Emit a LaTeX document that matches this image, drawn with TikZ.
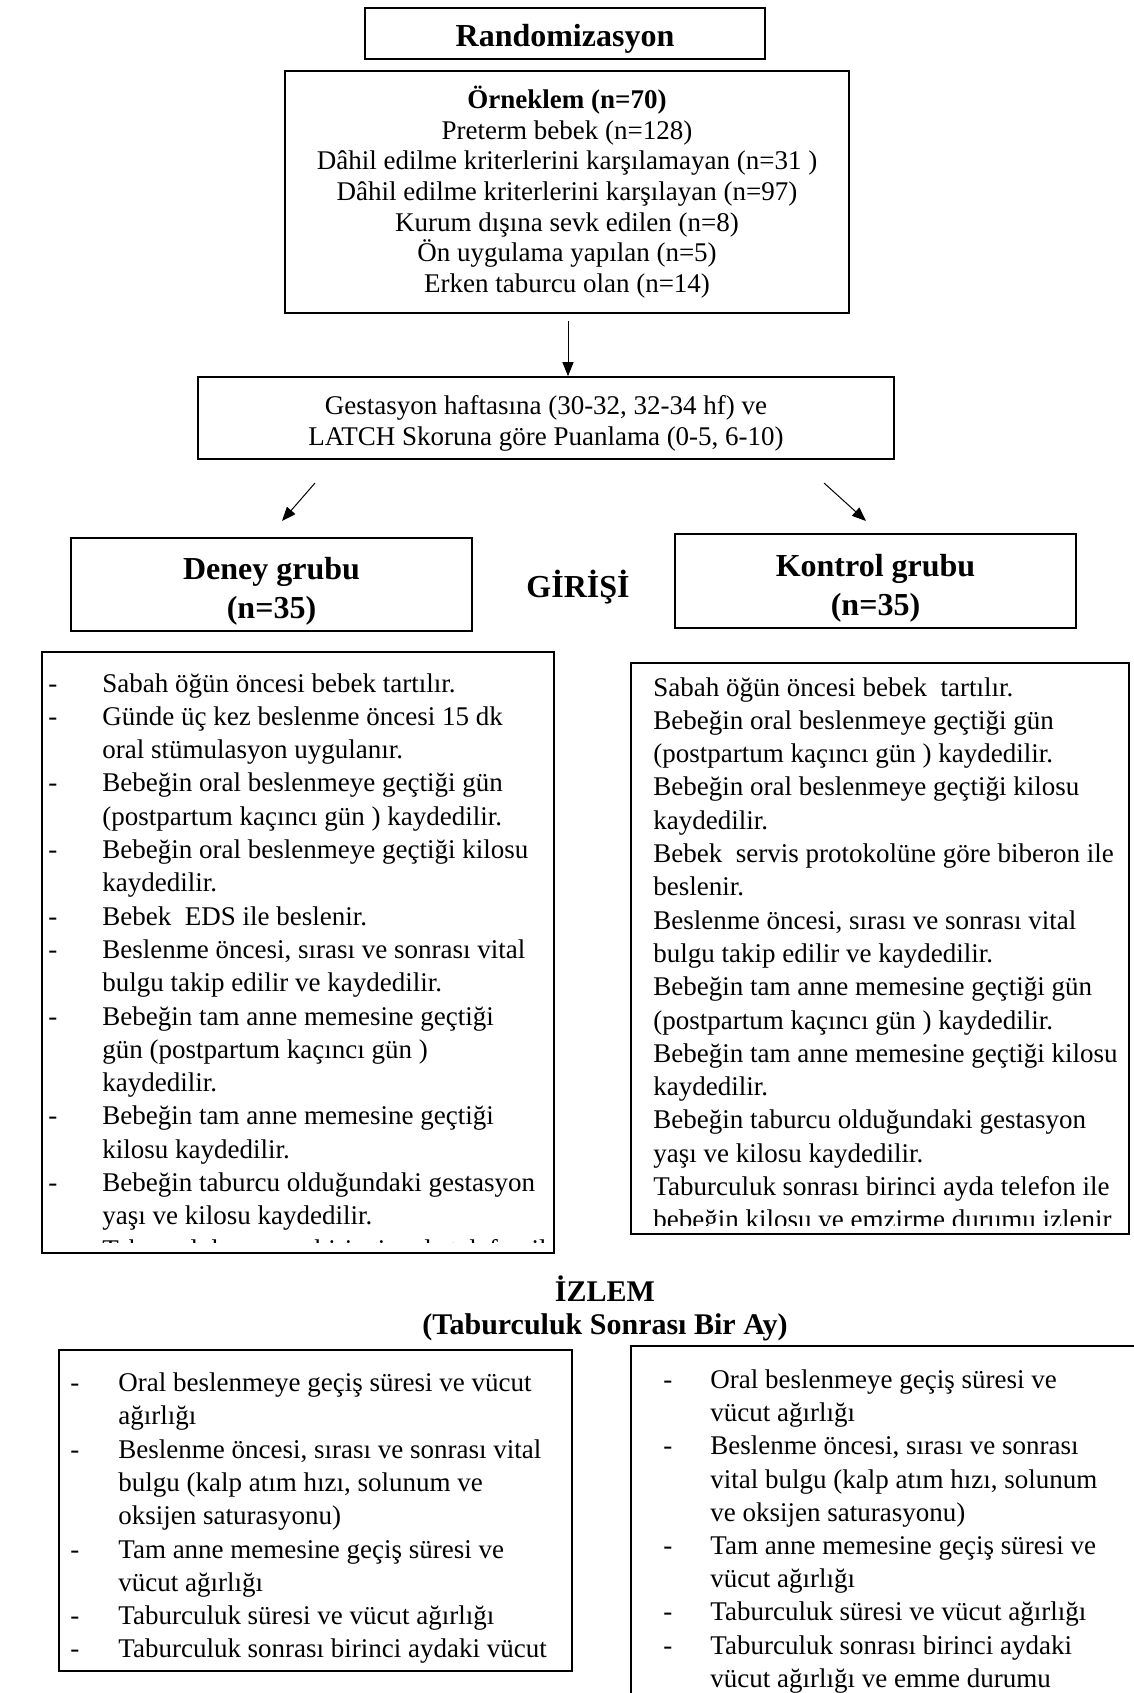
\documentclass[tikz,border=0pt]{standalone}
\usepackage{fontspec}
\setmainfont{Liberation Serif}
\usetikzlibrary{arrows.meta}
\begin{document}
\begin{tikzpicture}[x=0.5pt,y=-0.5pt,
  box/.style={draw,line width=0.8pt,inner sep=0pt},
  conn/.style={line width=0.5pt,-{Triangle[length=7pt,width=5.5pt]}},
  ctxt/.style={inner sep=0pt,anchor=base,font=\fontsize{13.5}{16}\selectfont},
  ltxt/.style={inner sep=0pt,anchor=base west,font=\fontsize{13.5}{16}\selectfont},
  hbig/.style={inner sep=0pt,anchor=base,font=\bfseries\fontsize{16}{19}\selectfont},
  hmid/.style={inner sep=0pt,anchor=base,font=\bfseries\fontsize{15}{18}\selectfont},
]
\useasboundingbox (0,0) rectangle (1134,1693);

% ---------- boxes ----------
\node[box,line width=1pt,minimum width=200pt,minimum height=25.5pt] (rand) at (565,33.5) {};
\node[box,line width=1pt,minimum width=282pt,minimum height=121pt] (orn) at (567,192) {};
\node[box,minimum width=348pt,minimum height=41pt] (gest) at (546,418) {};
\node[box,minimum width=200.5pt,minimum height=46.5pt] (deney) at (271.5,584.5) {};
\node[box,minimum width=200.5pt,minimum height=47pt] (kontrol) at (875.5,581) {};
\node[box,minimum width=256pt,minimum height=300.5pt] (llist) at (298,952.5) {};
\node[box,minimum width=249pt,minimum height=285.5pt] (rlist) at (880,948.5) {};
\node[box,minimum width=256.5pt,minimum height=160.5pt] (blist) at (315.5,1510.5) {};
\node[box,minimum width=254.5pt,minimum height=187pt] (brlist) at (885.5,1533) {};

% ---------- headings ----------
\node[hbig] (tRand) at (565,46) {Randomizasyon};
\node[ctxt] (o0) at (567,108.5) {\textbf{Örneklem (n=70)}};
\foreach \t [count=\i] in {{Preterm bebek (n=128)},
  {Dâhil edilme kriterlerini karşılamayan (n=31 )},
  {Dâhil edilme kriterlerini karşılayan (n=97)},
  {Kurum dışına sevk edilen (n=8)},
  {Ön uygulama yapılan (n=5)},
  {Erken taburcu olan (n=14)}}
  \node[ctxt] (o\i) at (567,108.5+\i*30.67) {\t};

\node[ctxt] (g1) at (546,414.5) {Gestasyon haftasına (30-32, 32-34 hf) ve};
\node[ctxt] (g2) at (546,445.5) {LATCH Skoruna göre Puanlama (0-5, 6-10)};

\node[hbig] (d1) at (271.5,579) {Deney grubu};
\node[hbig] (d2) at (271.5,618) {(n=35)};
\node[hbig] (k1) at (875.5,576) {Kontrol grubu};
\node[hbig] (k2) at (875.5,615) {(n=35)};
\node[fill=white,minimum width=82pt,minimum height=32pt] (girbg) at (578,588) {};
\node[hbig] (gir) at (578,597.5) {GİRİŞİ};

\node[hmid] (iz1) at (605,1301) {İZLEM};
\node[hmid] (iz2) at (605,1334) {(Taburculuk Sonrası Bir Ay)};

% ---------- connectors ----------
\coordinate (a1s) at (568,321);
\draw[conn] (a1s) -- (a1s |- gest.north);
\coordinate (d1s) at (315,483);
\coordinate (d1e) at (282,521);
\draw[conn] (d1s) -- (d1e);
\coordinate (k1s) at (824,483);
\coordinate (k1e) at (866,521);
\draw[conn] (k1s) -- (k1e);

% ---------- left list ----------
\begin{scope}
\clip (42,652) rectangle (554,1242);
\foreach \t [count=\i from 0] in {{Sabah öğün öncesi bebek tartılır.},
  {Günde üç kez beslenme öncesi 15 dk},
  {oral stümulasyon uygulanır.},
  {Bebeğin oral beslenmeye geçtiği gün},
  {(postpartum kaçıncı gün ) kaydedilir.},
  {Bebeğin oral beslenmeye geçtiği kilosu},
  {kaydedilir.},
  {Bebek\ \ EDS ile beslenir.},
  {Beslenme öncesi, sırası ve sonrası vital},
  {bulgu takip edilir ve kaydedilir.},
  {Bebeğin tam anne memesine geçtiği},
  {gün (postpartum kaçıncı gün )},
  {kaydedilir.},
  {Bebeğin tam anne memesine geçtiği},
  {kilosu kaydedilir.},
  {Bebeğin taburcu olduğundaki gestasyon},
  {yaşı ve kilosu kaydedilir.},
  {Taburculuk sonrası birinci ayda telefon ile}}
  \node[ltxt] (lt\i) at (102,692+\i*33.3) {\t};
\foreach \i in {0,1,3,5,7,8,10,13,15,17}
  \node[ltxt] (ld\i) at (48,692+\i*33.3) {-};
\end{scope}

% ---------- right list ----------
\begin{scope}
\clip (631,663) rectangle (1129,1225);
\foreach \t [count=\i from 0] in {{Sabah öğün öncesi bebek\ \ tartılır.},
  {Bebeğin oral beslenmeye geçtiği gün},
  {(postpartum kaçıncı gün ) kaydedilir.},
  {Bebeğin oral beslenmeye geçtiği kilosu},
  {kaydedilir.},
  {Bebek\ \ servis protokolüne göre biberon ile},
  {beslenir.},
  {Beslenme öncesi, sırası ve sonrası vital},
  {bulgu takip edilir ve kaydedilir.},
  {Bebeğin tam anne memesine geçtiği gün},
  {(postpartum kaçıncı gün ) kaydedilir.},
  {Bebeğin tam anne memesine geçtiği kilosu},
  {kaydedilir.},
  {Bebeğin taburcu olduğundaki gestasyon},
  {yaşı ve kilosu kaydedilir.},
  {Taburculuk sonrası birinci ayda telefon ile},
  {bebeğin kilosu ve emzirme durumu izlenir}}
  \node[ltxt] (rt\i) at (653,696+\i*33.3) {\t};
\end{scope}

% ---------- bottom left list ----------
\foreach \t [count=\i from 0] in {{Oral beslenmeye geçiş süresi ve vücut},
  {ağırlığı},
  {Beslenme öncesi, sırası ve sonrası vital},
  {bulgu (kalp atım hızı, solunum ve},
  {oksijen saturasyonu)},
  {Tam anne memesine geçiş süresi ve},
  {vücut ağırlığı},
  {Taburculuk süresi ve vücut ağırlığı},
  {Taburculuk sonrası birinci aydaki vücut}}
  \node[ltxt] (bt\i) at (118,1391.5+\i*33.3) {\t};
\foreach \i in {0,2,5,7,8}
  \node[ltxt] (bd\i) at (70,1391.5+\i*33.3) {-};

% ---------- bottom right list ----------
\foreach \t [count=\i from 0] in {{Oral beslenmeye geçiş süresi ve},
  {vücut ağırlığı},
  {Beslenme öncesi, sırası ve sonrası},
  {vital bulgu (kalp atım hızı, solunum},
  {ve oksijen saturasyonu)},
  {Tam anne memesine geçiş süresi ve},
  {vücut ağırlığı},
  {Taburculuk süresi ve vücut ağırlığı},
  {Taburculuk sonrası birinci aydaki},
  {vücut ağırlığı ve emme durumu}}
  \node[ltxt] (brt\i) at (710,1388.5+\i*33.2) {\t};
\foreach \i in {0,2,5,7,8}
  \node[ltxt] (brd\i) at (663,1388.5+\i*33.2) {-};
\end{tikzpicture}
\end{document}
